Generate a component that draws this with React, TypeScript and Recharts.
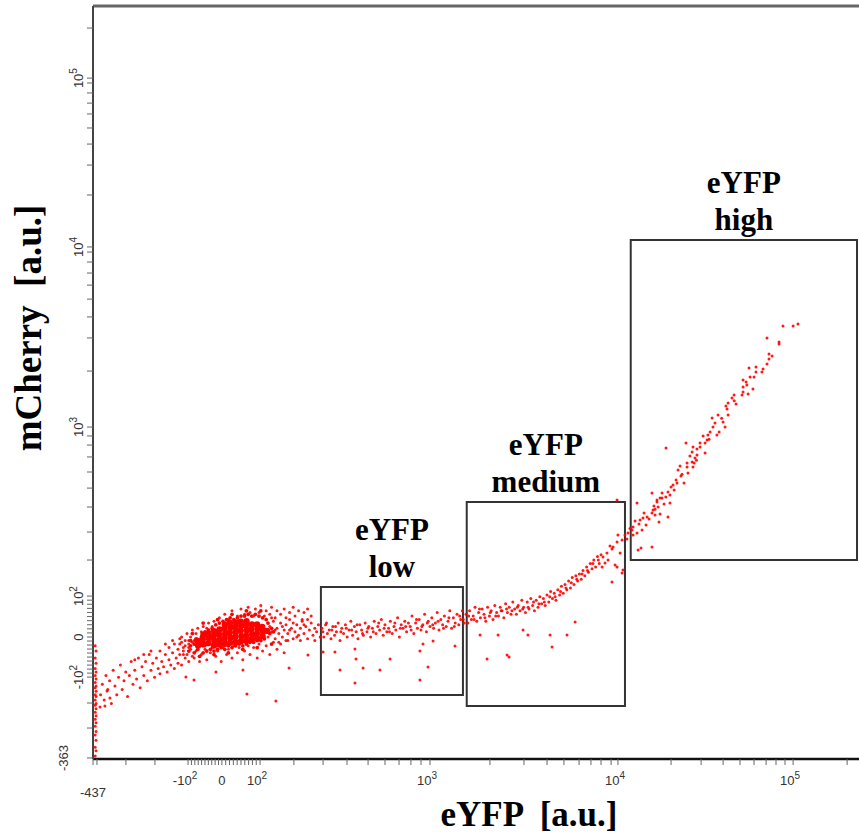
import React from 'react';
import { ScatterChart, Scatter, XAxis, YAxis, ReferenceArea, ReferenceLine } from 'recharts';

type Pt = [number, number];

// Positions are on the biexponential display scale, in decades
// (x: eYFP, y: mCherry).

// events piled up at the lower x limit
const LEFT_EDGE_EVENTS: Pt[] = [
  [1.14, 1.12], [1.145, 1.15], [1.14, 1.17], [1.145, 1.21], [1.14, 1.24], [1.145, 1.26], [1.14, 1.29],
  [1.145, 1.31], [1.14, 1.33], [1.145, 1.35], [1.14, 1.37], [1.145, 1.39], [1.14, 1.41], [1.145, 1.42],
  [1.14, 1.44], [1.145, 1.46], [1.14, 1.47], [1.145, 1.49], [1.14, 1.51], [1.145, 1.52], [1.14, 1.54],
  [1.145, 1.56], [1.14, 1.58], [1.145, 1.6], [1.14, 1.62], [1.145, 1.65], [1.14, 1.68], [1.145, 1.72],
  [1.14, 1.75],
];

const NEGATIVE_TAIL_EVENTS: Pt[] = [
  [1.17, 1.47], [1.18, 1.53], [1.19, 1.44], [1.2, 1.58], [1.21, 1.5], [1.22, 1.55], [1.23, 1.42],
  [1.24, 1.61], [1.25, 1.52], [1.26, 1.47], [1.27, 1.57], [1.28, 1.64], [1.29, 1.5], [1.3, 1.55],
  [1.31, 1.6], [1.32, 1.46], [1.33, 1.58], [1.34, 1.66], [1.35, 1.53], [1.36, 1.61], [1.37, 1.56],
  [1.38, 1.68], [1.39, 1.51], [1.4, 1.63], [1.41, 1.58], [1.42, 1.66], [1.43, 1.55], [1.44, 1.7],
  [1.45, 1.61], [1.46, 1.65], [1.47, 1.57], [1.48, 1.68], [1.49, 1.62], [1.5, 1.72], [1.5, 1.59],
  [1.51, 1.66], [1.52, 1.63], [1.53, 1.7], [1.54, 1.6], [1.55, 1.74], [1.55, 1.67], [1.56, 1.64],
  [1.57, 1.71], [1.58, 1.62], [1.58, 1.76], [1.59, 1.68], [1.6, 1.73], [1.6, 1.65], [1.61, 1.7],
  [1.62, 1.77], [1.62, 1.64], [1.63, 1.72], [1.64, 1.68], [1.64, 1.75], [1.65, 1.7], [1.66, 1.78],
  [1.66, 1.66], [1.67, 1.73], [1.68, 1.69], [1.68, 1.77],
  [1.53, 1.76], [1.57, 1.78], [1.61, 1.79], [1.45, 1.72], [1.41, 1.7], [1.36, 1.67],
];

// the saturated centre of the unstained population
const BLOB_CORE_EVENTS: Pt[] = [
  [1.712, 1.752], [1.708, 1.779],
  [1.742, 1.758], [1.738, 1.788], [1.741, 1.812],
  [1.768, 1.765], [1.772, 1.795], [1.769, 1.822],
  [1.8, 1.752], [1.802, 1.779], [1.798, 1.806], [1.801, 1.834],
  [1.83, 1.758], [1.832, 1.786], [1.828, 1.815], [1.831, 1.843],
  [1.86, 1.762], [1.858, 1.79], [1.862, 1.818], [1.859, 1.847], [1.861, 1.872],
  [1.89, 1.767], [1.891, 1.796], [1.888, 1.826], [1.892, 1.855], [1.889, 1.88],
  [1.92, 1.771], [1.918, 1.8], [1.921, 1.829], [1.919, 1.858], [1.922, 1.884],
  [1.95, 1.776], [1.952, 1.805], [1.948, 1.836], [1.951, 1.864], [1.949, 1.888],
  [1.98, 1.779], [1.979, 1.808], [1.982, 1.839], [1.978, 1.867], [1.981, 1.89],
  [2.01, 1.787], [2.012, 1.815], [2.008, 1.845], [2.011, 1.872],
  [2.04, 1.792], [2.038, 1.82], [2.042, 1.848], [2.039, 1.872],
  [2.07, 1.805], [2.072, 1.832], [2.068, 1.857],
  [2.095, 1.835],
];

// dense fringe right around the core
const BLOB_FRINGE_EVENTS: Pt[] = [
  [1.66, 1.72], [1.67, 1.75], [1.67, 1.78], [1.69, 1.71], [1.69, 1.76], [1.7, 1.79], [1.71, 1.73],
  [1.72, 1.77], [1.73, 1.8], [1.74, 1.71], [1.75, 1.83], [1.76, 1.72], [1.77, 1.84], [1.78, 1.73],
  [1.79, 1.85], [1.8, 1.72], [1.81, 1.87], [1.82, 1.73], [1.83, 1.88], [1.84, 1.74], [1.85, 1.89],
  [1.86, 1.73], [1.87, 1.9], [1.88, 1.75], [1.89, 1.91], [1.9, 1.74], [1.91, 1.9], [1.92, 1.75],
  [1.93, 1.91], [1.94, 1.76], [1.95, 1.92], [1.96, 1.75], [1.97, 1.92], [1.98, 1.76], [1.99, 1.93],
  [2.0, 1.77], [2.01, 1.92], [2.02, 1.77], [2.03, 1.93], [2.04, 1.78], [2.05, 1.92], [2.06, 1.78],
  [2.07, 1.91], [2.08, 1.79], [2.09, 1.9], [2.1, 1.88], [2.11, 1.82], [2.12, 1.85], [2.13, 1.83],
  [2.06, 1.95], [1.98, 1.95], [1.9, 1.93], [1.82, 1.9], [1.74, 1.88], [1.68, 1.82], [1.72, 1.69],
  [1.8, 1.7], [1.88, 1.71], [1.96, 1.73], [2.04, 1.74], [2.12, 1.76],
];

const BLOB_HALO_EVENTS: Pt[] = [
  // upper rim
  [1.8, 1.89], [1.83, 1.91], [1.86, 1.93], [1.88, 1.9], [1.9, 1.95], [1.93, 1.92], [1.95, 1.96],
  [1.97, 1.93], [1.99, 1.97], [2.0, 1.94], [2.02, 1.92], [2.03, 1.96], [2.05, 1.94], [2.06, 1.98],
  [2.08, 1.92], [2.09, 1.95], [2.11, 1.93], [2.12, 1.97], [2.14, 1.91], [2.15, 1.95], [2.17, 1.93],
  [2.19, 1.96], [2.2, 1.91], [2.22, 1.94], [2.24, 1.97], [2.25, 1.92], [2.27, 1.95], [2.29, 1.9],
  [2.3, 1.94], [2.32, 1.96], [2.34, 1.92],
  // lower rim
  [1.63, 1.7], [1.66, 1.74], [1.69, 1.68], [1.7, 1.72], [1.72, 1.66], [1.73, 1.7], [1.75, 1.73],
  [1.76, 1.67], [1.78, 1.71], [1.79, 1.74], [1.81, 1.69], [1.82, 1.72], [1.84, 1.66], [1.85, 1.74],
  [1.87, 1.7], [1.88, 1.73], [1.9, 1.68], [1.91, 1.75], [1.93, 1.71], [1.94, 1.74], [1.96, 1.67],
  [1.97, 1.72], [1.99, 1.75], [2.0, 1.7], [2.02, 1.74], [2.04, 1.68], [2.05, 1.76], [2.07, 1.72],
  [2.09, 1.75], [2.11, 1.7], [2.13, 1.77], [2.15, 1.73], [2.17, 1.76], [2.19, 1.71], [2.21, 1.78],
  // left shoulder
  [1.61, 1.76], [1.62, 1.8], [1.63, 1.74], [1.64, 1.78], [1.65, 1.82], [1.66, 1.76], [1.67, 1.8],
  [1.68, 1.84], [1.69, 1.78], [1.7, 1.82], [1.71, 1.85], [1.73, 1.83], [1.74, 1.86], [1.76, 1.85],
  [1.77, 1.88], [1.79, 1.86],
  // right shoulder
  [2.1, 1.8], [2.11, 1.86], [2.12, 1.83], [2.13, 1.89], [2.14, 1.79], [2.15, 1.85], [2.16, 1.82],
  [2.17, 1.88], [2.18, 1.8], [2.19, 1.84], [2.2, 1.87], [2.21, 1.82], [2.22, 1.9], [2.23, 1.85],
  [2.24, 1.79], [2.25, 1.83], [2.26, 1.87], [2.27, 1.81], [2.28, 1.85], [2.29, 1.89], [2.3, 1.82],
  [2.31, 1.86], [2.32, 1.79], [2.33, 1.84], [2.34, 1.88], [2.35, 1.81], [2.36, 1.85], [2.37, 1.83],
  [2.38, 1.87], [2.39, 1.8], [2.12, 1.91], [2.16, 1.77], [2.2, 1.78], [2.24, 1.88], [2.28, 1.78],
  [2.32, 1.9], [2.36, 1.78], [2.14, 1.84], [2.18, 1.86], [2.22, 1.84], [2.26, 1.8], [2.3, 1.87],
];

const LOW_BAND_EVENTS: Pt[] = [
  [2.4, 1.85], [2.41, 1.8], [2.42, 1.87], [2.43, 1.82], [2.44, 1.84], [2.45, 1.79], [2.46, 1.86],
  [2.47, 1.81], [2.48, 1.83], [2.49, 1.88], [2.5, 1.78], [2.51, 1.85], [2.52, 1.82], [2.53, 1.87],
  [2.54, 1.8], [2.55, 1.84], [2.56, 1.89], [2.57, 1.81], [2.58, 1.86], [2.59, 1.83], [2.6, 1.79],
  [2.61, 1.87], [2.62, 1.84], [2.63, 1.81], [2.64, 1.88], [2.65, 1.83], [2.66, 1.86], [2.67, 1.8],
  [2.68, 1.85], [2.69, 1.89], [2.7, 1.82], [2.71, 1.86], [2.72, 1.84], [2.73, 1.9], [2.74, 1.81],
  [2.75, 1.87], [2.76, 1.83], [2.77, 1.85], [2.78, 1.89], [2.79, 1.82], [2.8, 1.86], [2.81, 1.84],
  [2.82, 1.91], [2.83, 1.8], [2.84, 1.87], [2.85, 1.85], [2.86, 1.89], [2.87, 1.83], [2.88, 1.88],
  [2.89, 1.86], [2.9, 1.92], [2.91, 1.82], [2.92, 1.88], [2.93, 1.85], [2.94, 1.9], [2.95, 1.84],
  [2.96, 1.87], [2.97, 1.93], [2.98, 1.83], [2.99, 1.89], [3.0, 1.86], [3.01, 1.91], [3.02, 1.85],
  [3.03, 1.88], [3.04, 1.94], [3.05, 1.84], [3.06, 1.9], [3.07, 1.87], [3.08, 1.92], [3.09, 1.86],
  [3.1, 1.89], [3.11, 1.95], [3.12, 1.85], [3.13, 1.91], [3.14, 1.88], [3.15, 1.93], [3.16, 1.87],
  [3.17, 1.9], [3.18, 1.95], [3.19, 1.88],
  [2.405, 1.83], [2.425, 1.88], [2.455, 1.84], [2.475, 1.86], [2.505, 1.83], [2.535, 1.85],
  [2.565, 1.84], [2.595, 1.87], [2.625, 1.82], [2.655, 1.85], [2.685, 1.83], [2.715, 1.88],
  [2.745, 1.85], [2.775, 1.83], [2.805, 1.88], [2.835, 1.85], [2.865, 1.86], [2.895, 1.84],
  [2.925, 1.9], [2.955, 1.86], [2.985, 1.88], [3.015, 1.87], [3.045, 1.89], [3.075, 1.85],
  [3.105, 1.91], [3.135, 1.86], [3.165, 1.92], [3.185, 1.9],
];

const MEDIUM_BAND_EVENTS: Pt[] = [
  [3.2, 1.93], [3.21, 1.88], [3.22, 1.95], [3.23, 1.9], [3.24, 1.92], [3.25, 1.97], [3.26, 1.89],
  [3.27, 1.94], [3.28, 1.91], [3.29, 1.96], [3.3, 1.93], [3.31, 1.89], [3.32, 1.97], [3.33, 1.92],
  [3.34, 1.95], [3.35, 1.9], [3.36, 1.98], [3.37, 1.94], [3.38, 1.92], [3.39, 1.97], [3.4, 1.95],
  [3.41, 1.91], [3.42, 1.99], [3.43, 1.94], [3.44, 1.97], [3.45, 1.93], [3.46, 2.0], [3.47, 1.96],
  [3.48, 1.93], [3.49, 1.98], [3.5, 1.95], [3.51, 2.01], [3.52, 1.97], [3.53, 1.94], [3.54, 2.0],
  [3.55, 1.96], [3.56, 2.02], [3.57, 1.98], [3.58, 1.95], [3.59, 2.01], [3.6, 1.97], [3.61, 2.03],
  [3.62, 1.99], [3.63, 2.02], [3.64, 1.98], [3.65, 2.04], [3.66, 2.0], [3.67, 2.06], [3.68, 2.02],
  [3.69, 2.05], [3.7, 2.01], [3.71, 2.07], [3.72, 2.04], [3.73, 2.09], [3.74, 2.05], [3.75, 2.1],
  [3.76, 2.07], [3.77, 2.12], [3.78, 2.08], [3.79, 2.14], [3.8, 2.1], [3.81, 2.15], [3.82, 2.12],
  [3.83, 2.16], [3.84, 2.13], [3.85, 2.18], [3.86, 2.15], [3.87, 2.2], [3.88, 2.17], [3.89, 2.22],
  [3.9, 2.19], [3.91, 2.24], [3.92, 2.2], [3.93, 2.26], [3.94, 2.22], [3.95, 2.27],
  [3.215, 1.92], [3.245, 1.9], [3.275, 1.96], [3.305, 1.91], [3.335, 1.94], [3.365, 1.92],
  [3.395, 1.95], [3.425, 1.96], [3.455, 1.95], [3.485, 1.97], [3.515, 1.96], [3.545, 1.97],
  [3.575, 2.0], [3.605, 1.99], [3.635, 2.0], [3.665, 2.03], [3.695, 2.03], [3.725, 2.06],
  [3.755, 2.08], [3.785, 2.11], [3.815, 2.13], [3.845, 2.16], [3.875, 2.18], [3.905, 2.22],
  [3.935, 2.24],
];

const HIGH_BAND_EVENTS: Pt[] = [
  [4.961, 3.577], [5.017, 3.577], [5.044, 3.589], [4.872, 3.509], [4.939, 3.486], [4.939, 3.474],
  [4.883, 3.417], [4.9, 3.406], [4.883, 3.389], [4.872, 3.36], [4.772, 3.337], [4.811, 3.343],
  [4.85, 3.331], [4.844, 3.314], [4.811, 3.314], [4.8, 3.286], [4.778, 3.286], [4.739, 3.269],
  [4.756, 3.257], [4.794, 3.217], [4.739, 3.229], [4.739, 3.2], [4.733, 3.183], [4.767, 3.189],
  [4.689, 3.183], [4.678, 3.166], [4.7, 3.131], [4.656, 3.137], [4.644, 3.12], [4.65, 3.103],
  [4.656, 3.069], [4.6, 3.069], [4.567, 3.051], [4.628, 3.029], [4.639, 3.0], [4.583, 3.023],
  [4.572, 3.0], [4.606, 2.971], [4.594, 2.954], [4.556, 2.971], [4.544, 2.954], [4.517, 2.949],
  [4.539, 2.926], [4.528, 2.909], [4.5, 2.909], [4.5, 2.886], [4.461, 2.886], [4.483, 2.874],
  [4.528, 2.851], [4.456, 2.857], [4.444, 2.834], [4.483, 2.84], [4.472, 2.823], [4.422, 2.909],
  [4.456, 2.8], [4.428, 2.794], [4.467, 2.794], [4.461, 2.771], [4.428, 2.771], [4.433, 2.737],
  [4.389, 2.777], [4.378, 2.754], [4.394, 2.72], [4.411, 2.68], [4.367, 2.697], [4.35, 2.669],
  [4.372, 2.68], [4.339, 2.657], [4.356, 2.64], [4.322, 2.629], [4.333, 2.611], [4.289, 2.623],
  [4.233, 2.623], [4.278, 2.594], [4.261, 2.583], [4.289, 2.594], [4.3, 2.56], [4.261, 2.571],
  [4.244, 2.549], [4.333, 2.566], [4.267, 2.543], [4.239, 2.526], [4.233, 2.509], [4.278, 2.503],
  [4.25, 2.497], [4.189, 2.509], [4.206, 2.486], [4.183, 2.48], [4.217, 2.474], [4.15, 2.566],
  [4.167, 2.469], [4.139, 2.463], [4.161, 2.446], [4.178, 2.411], [4.322, 2.486], [4.272, 2.457],
  [4.128, 2.429], [4.122, 2.411], [4.1, 2.394], [4.128, 2.383], [4.15, 2.394], [4.083, 2.383],
  [4.094, 2.36], [4.067, 2.354], [4.044, 2.383], [4.039, 2.343], [4.017, 2.314], [4.0, 2.32],
  [4.011, 2.303], [4.172, 2.309], [4.156, 2.297], [4.233, 2.314], [4.056, 2.28], [3.983, 2.28],
  [3.961, 2.257], [3.989, 2.24], [4.028, 2.211], [3.972, 2.223], [4.039, 2.2], [4.072, 2.183],
  [4.067, 2.166], [3.956, 2.2], [4.039, 2.583], [4.111, 2.42], [4.2, 2.44], [4.25, 2.53],
  [4.31, 2.6], [4.4, 2.73], [4.48, 2.81], [4.55, 2.93], [4.62, 3.05], [4.69, 3.15], [4.76, 3.24],
];

const OUTLIER_EVENTS: Pt[] = [
  [1.983, 1.474], [2.144, 1.434], [2.217, 1.623], [1.961, 1.611], [1.811, 1.6], [1.689, 1.554],
  [1.644, 1.571], [1.194, 1.406], [1.167, 1.4], [1.222, 1.451], [1.206, 1.491], [2.5, 1.611],
  [2.583, 1.537], [2.628, 1.623], [2.722, 1.611], [2.778, 1.674], [2.944, 1.554], [2.989, 1.629],
  [2.589, 1.674], [2.583, 1.731], [2.944, 1.72], [3.139, 1.749], [2.961, 1.76], [3.017, 1.777],
  [2.472, 1.714], [2.406, 1.714], [2.322, 1.697], [3.317, 1.674], [3.428, 1.697], [3.439, 1.686],
  [3.678, 1.743], [3.667, 1.811], [3.761, 1.811], [3.806, 1.886], [3.378, 1.811], [3.278, 1.811],
  [3.544, 1.811], [3.517, 1.84], [4.011, 2.114], [4.311, 2.88],
];

// sort gates (rectangles) on the same display scale
const GATE_NAMES = ['low', 'medium', 'high'];
const GATE_X = [[2.394, 3.183], [3.204, 4.083], [4.115, 5.372]];
const GATE_Y = [[1.469, 2.086], [1.406, 2.571], [2.24, 4.069]];

// axis ticks: display position + printed label
const X_MAJOR_TICKS = [
  { value: 1.128, base: '-437', exp: '' },
  { value: 1.656, base: '-10', exp: '2' },
  { value: 1.844, base: '0', exp: '' },
  { value: 2.056, base: '10', exp: '2' },
  { value: 3.0, base: '10', exp: '3' },
  { value: 4.044, base: '10', exp: '4' },
  { value: 5.017, base: '10', exp: '5' },
];
const X_MINOR_TICKS = [
  1.15, 1.311, 1.472,
  2.244, 2.406, 2.539, 2.656, 2.75, 2.828, 2.894, 2.95,
  3.333, 3.522, 3.65, 3.744, 3.828, 3.894, 3.95, 4.006,
  4.339, 4.506, 4.628, 4.722, 4.8, 4.867, 4.922, 4.972, 5.317,
];
const Y_MAJOR_TICKS = [
  { value: 1.109, base: '-363', exp: '' },
  { value: 1.571, base: '-10', exp: '2' },
  { value: 1.8, base: '0', exp: '' },
  { value: 2.034, base: '10', exp: '2' },
  { value: 3.0, base: '10', exp: '3' },
  { value: 4.029, base: '10', exp: '4' },
  { value: 4.994, base: '10', exp: '5' },
];
const Y_MINOR_TICKS = [
  1.28, 1.423,
  2.24, 2.4, 2.543, 2.651, 2.743, 2.829, 2.897, 2.949,
  3.32, 3.509, 3.629, 3.731, 3.811, 3.88, 3.943, 4.0,
  4.326, 4.497, 4.617, 4.709, 4.789, 4.851, 4.909, 4.966, 5.28,
];

const X_DOMAIN: [number, number] = [1.128, 5.383];
const Y_DOMAIN: [number, number] = [1.103, 5.406];

// linear-region ticks (steps of 10) between -10^2 and 10^2
const linearTicks = (lo: number, zero: number, hi: number) => {
  const out: number[] = [];
  for (let i = 1; i < 10; i++) {
    out.push(lo + ((zero - lo) * i) / 10);
    out.push(zero + ((hi - zero) * i) / 10);
  }
  return out;
};

const xTicks = [
  ...X_MAJOR_TICKS.map((t) => t.value),
  ...X_MINOR_TICKS,
  ...linearTicks(1.656, 1.844, 2.056),
];
const yTicks = [
  ...Y_MAJOR_TICKS.map((t) => t.value),
  ...Y_MINOR_TICKS,
  ...linearTicks(1.571, 1.8, 2.034),
];

const toPoints = (rows: Pt[]) => rows.map(([x, y]) => ({ x, y }));

const SANS = "'Liberation Sans', Arial, sans-serif";
const SERIF = "'Liberation Serif', 'Times New Roman', serif";
const RED = '#ff0000';

const smallDot = (p: any) => <circle cx={p.cx} cy={p.cy} r={1.5} fill={RED} fillOpacity={0.9} />;
const midDot = (p: any) => <circle cx={p.cx} cy={p.cy} r={1.9} fill={RED} />;
const bigDot = (p: any) => <circle cx={p.cx} cy={p.cy} r={3.2} fill={RED} />;

const findMajor = (list: typeof X_MAJOR_TICKS, v: number) =>
  list.find((t) => Math.abs(t.value - v) < 1e-6);

const XTick = (props: any) => {
  const { x, y, payload } = props;
  const major = findMajor(X_MAJOR_TICKS, payload.value);
  const far = major && major.base === '-437';
  return (
    <g>
      <line x1={x} x2={x} y1={y} y2={y + 6} stroke="#666" strokeWidth={1} />
      {major && (
        <text
          x={major.exp ? x - 3 : x}
          y={y + (far ? 38 : 26)}
          textAnchor="middle"
          fontSize={13}
          fontFamily={SANS}
          fill="#333"
        >
          {major.base}
          {major.exp && (
            <tspan dy={-6} fontSize={10}>
              {major.exp}
            </tspan>
          )}
        </text>
      )}
    </g>
  );
};

const YTick = (props: any) => {
  const { x, y, payload } = props;
  const major = findMajor(Y_MAJOR_TICKS, payload.value);
  const far = major && major.base === '-363';
  const tx = x - (far ? 25 : 10);
  return (
    <g>
      <line x1={x - 6} x2={x} y1={y} y2={y} stroke="#666" strokeWidth={1} />
      {major && (
        <text
          transform={`translate(${tx},${y}) rotate(-90)`}
          textAnchor="middle"
          fontSize={13}
          fontFamily={SANS}
          fill="#333"
        >
          {major.base}
          {major.exp && (
            <tspan dy={-6} fontSize={10}>
              {major.exp}
            </tspan>
          )}
        </text>
      )}
    </g>
  );
};

const GateLabel = ({ viewBox, name }: any) => {
  if (!viewBox) return null;
  const cx = viewBox.x + viewBox.width / 2;
  const base = viewBox.y - 10;
  return (
    <text textAnchor="middle" fontFamily={SERIF} fontWeight="bold" fontSize={31} fill="#000">
      <tspan x={cx} y={base - 37}>eYFP</tspan>
      <tspan x={cx} y={base}>{name}</tspan>
    </text>
  );
};

const XTitle = () => (
  <text x={529} y={826} textAnchor="middle" fontFamily={SERIF} fontWeight="bold" fontSize={35}
    style={{ whiteSpace: 'pre' }} fill="#000">
    {'eYFP  [a.u.]'}
  </text>
);

const YTitle = () => (
  <text transform="translate(41,328) rotate(-90)" textAnchor="middle" fontFamily={SERIF}
    fontWeight="bold" fontSize={37} style={{ whiteSpace: 'pre' }} fill="#000">
    {'mCherry  [a.u.]'}
  </text>
);

const SERIES: { rows: Pt[]; shape: any }[] = [
  { rows: LEFT_EDGE_EVENTS, shape: smallDot },
  { rows: NEGATIVE_TAIL_EVENTS, shape: smallDot },
  { rows: BLOB_HALO_EVENTS, shape: smallDot },
  { rows: BLOB_FRINGE_EVENTS, shape: midDot },
  { rows: BLOB_CORE_EVENTS, shape: bigDot },
  { rows: LOW_BAND_EVENTS, shape: smallDot },
  { rows: MEDIUM_BAND_EVENTS, shape: smallDot },
  { rows: HIGH_BAND_EVENTS, shape: smallDot },
  { rows: OUTLIER_EVENTS, shape: smallDot },
];

export default function App() {
  return (
    <div style={{ position: 'absolute', left: 0, top: 0, background: '#fff' }}>
      <ScatterChart width={859} height={836} margin={{ top: 6, right: 0, bottom: 0, left: 0 }}>
        <XAxis
          type="number"
          dataKey="x"
          domain={X_DOMAIN}
          allowDataOverflow
          ticks={xTicks}
          interval={0}
          tickSize={0}
          tickMargin={0}
          tick={<XTick />}
          height={77}
          axisLine={{ stroke: '#111', strokeWidth: 2.5 }}
          label={<XTitle />}
        />
        <YAxis
          type="number"
          dataKey="y"
          domain={Y_DOMAIN}
          allowDataOverflow
          ticks={yTicks}
          interval={0}
          tickSize={0}
          tickMargin={0}
          tick={<YTick />}
          width={93}
          axisLine={{ stroke: '#444', strokeWidth: 2 }}
          label={<YTitle />}
        />
        <ReferenceLine y={Y_DOMAIN[1]} stroke="#666" strokeWidth={3} />
        {SERIES.map((s, i) => (
          <Scatter key={i} data={toPoints(s.rows)} shape={s.shape} isAnimationActive={false} />
        ))}
        {GATE_NAMES.map((name, i) => (
          <ReferenceArea
            key={name}
            x1={GATE_X[i][0]}
            x2={GATE_X[i][1]}
            y1={GATE_Y[i][0]}
            y2={GATE_Y[i][1]}
            fill="none"
            stroke="#333"
            strokeWidth={2}
            label={<GateLabel name={name} />}
          />
        ))}
      </ScatterChart>
    </div>
  );
}
